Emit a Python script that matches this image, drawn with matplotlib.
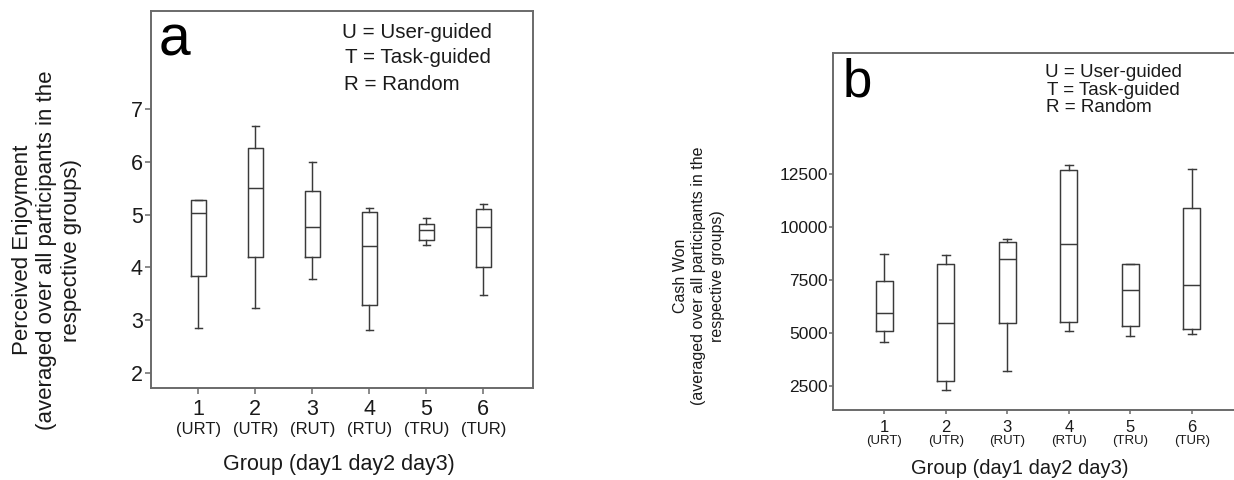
import matplotlib
matplotlib.use('Agg')
import matplotlib.pyplot as plt

plt.rcParams['font.family'] = ['Liberation Sans', 'DejaVu Sans']

# ---- data ----
groups = [1, 2, 3, 4, 5, 6]
orders = ['(URT)', '(UTR)', '(RUT)', '(RTU)', '(TRU)', '(TUR)']
yticks_a = [2, 3, 4, 5, 6, 7]
yticks_b = [2500, 5000, 7500, 10000, 12500]
legend_lines = ['U = User-guided', 'T = Task-guided', 'R = Random']

enj_whislo = [2.85, 3.24, 3.79, 2.81, 4.42, 3.47]
enj_q1 = [3.83, 4.19, 4.19, 3.29, 4.52, 4.00]
enj_med = [5.03, 5.50, 4.76, 4.40, 4.71, 4.77]
enj_q3 = [5.27, 6.26, 5.45, 5.04, 4.83, 5.10]
enj_whishi = [5.28, 6.68, 6.00, 5.12, 4.94, 5.20]

cash_whislo = [4590, 2311, 3208, 5094, 4858, 4967]
cash_q1 = [5080, 2736, 5486, 5505, 5330, 5204]
cash_med = [5958, 5486, 8505, 9212, 7014, 7250]
cash_q3 = [7467, 8241, 9307, 12703, 8240, 10882]
cash_whishi = [8712, 8665, 9420, 12940, 8270, 12720]

W, H = 1234, 480
fig = plt.figure(figsize=(W / 100, H / 100), dpi=100)
fig.patch.set_facecolor('white')

LC = '#3a3a3a'
FC = '#6a6a6a'
TC = '#1a1a1a'


def px(x, y):
    return x / W, 1 - y / H


def make_stats(lo, q1, med, q3, hi):
    return [dict(whislo=a, q1=b, med=c, q3=d, whishi=e, fliers=[])
            for a, b, c, d, e in zip(lo, q1, med, q3, hi)]


def draw_panel(ax, stats, width, capw):
    props = dict(color=LC, linewidth=1.05)
    ax.bxp(stats, positions=groups, widths=width, capwidths=capw,
           showfliers=False, boxprops=props, medianprops=props,
           whiskerprops=props, capprops=props, manage_ticks=False)
    for s in ax.spines.values():
        s.set_color(FC)
        s.set_linewidth(1.4)


# ---- panel a ----
axa = fig.add_axes([151 / W, (H - 388) / H, 382 / W, 377 / H])
draw_panel(axa, make_stats(enj_whislo, enj_q1, enj_med, enj_q3, enj_whishi), 0.26, 0.13)
axa.set_xlim(0.17, 6.872)
axa.set_ylim(1.72, 8.85)
axa.set_yticks(yticks_a)
axa.set_yticklabels([str(v) for v in yticks_a], fontsize=15.5, color=TC)
axa.set_xticks(groups)
axa.set_xticklabels([])
axa.tick_params(axis='both', direction='out', length=4, width=1.1, color=FC, pad=2)
for g, o in zip(groups, orders):
    axa.annotate(str(g), xy=(g, 0), xycoords=('data', 'axes fraction'),
                 xytext=(0, -19.4), textcoords='offset points',
                 ha='center', va='baseline', fontsize=15.5, color=TC)
    axa.annotate(o, xy=(g, 0), xycoords=('data', 'axes fraction'),
                 xytext=(0, -33.1), textcoords='offset points',
                 ha='center', va='baseline', fontsize=12, color=TC)

fig.text(*px(159, 55), 'a', fontsize=41, ha='left', va='baseline', color='black')
for (x, y), t in zip([(341.7, 37.7), (345, 63.3), (344.3, 90)], legend_lines):
    fig.text(*px(x, y), t, fontsize=14.8, ha='left', va='baseline', color=TC)
fig.text(*px(338.5, 470), 'Group (day1 day2 day3)', fontsize=15.5,
         ha='center', va='baseline', color=TC)
fig.text(*px(47, 250),
         'Perceived Enjoyment\n(averaged over all participants in the\nrespective groups)',
         rotation=90, fontsize=16, ha='center', va='center',
         multialignment='center', linespacing=1.22, color=TC)

# ---- panel b ----
axb = fig.add_axes([833.3 / W, (H - 410) / H, 409.7 / W, 357.3 / H])
draw_panel(axb, make_stats(cash_whislo, cash_q1, cash_med, cash_q3, cash_whishi), 0.27, 0.135)
axb.set_xlim(0.1705, 6.834)
axb.set_ylim(1368, 18222)
axb.set_yticks(yticks_b)
axb.set_yticklabels([str(v) for v in yticks_b], fontsize=12.5, color=TC)
axb.set_xticks(groups)
axb.set_xticklabels([])
axb.tick_params(axis='both', direction='out', length=3, width=1.1, color=FC, pad=1)
for g, o in zip(groups, orders):
    axb.annotate(str(g), xy=(g, 0), xycoords=('data', 'axes fraction'),
                 xytext=(0, -15.6), textcoords='offset points',
                 ha='center', va='baseline', fontsize=12, color=TC)
    axb.annotate(o, xy=(g, 0), xycoords=('data', 'axes fraction'),
                 xytext=(0, -24.5), textcoords='offset points',
                 ha='center', va='baseline', fontsize=9.5, color=TC)

fig.text(*px(843, 96.7), 'b', fontsize=38, ha='left', va='baseline', color='black')
for (x, y), t in zip([(1045, 77.3), (1046.7, 95), (1046, 111.7)], legend_lines):
    fig.text(*px(x, y), t, fontsize=13.5, ha='left', va='baseline', color=TC)
fig.text(*px(1020, 474), 'Group (day1 day2 day3)', fontsize=14.5,
         ha='center', va='baseline', color=TC)
fig.text(*px(699, 276),
         'Cash Won\n(averaged over all participants in the\nrespective groups)',
         rotation=90, fontsize=11.5, ha='center', va='center',
         multialignment='center', linespacing=1.3, color=TC)

fig.savefig('out.png', dpi=100, facecolor='white')
